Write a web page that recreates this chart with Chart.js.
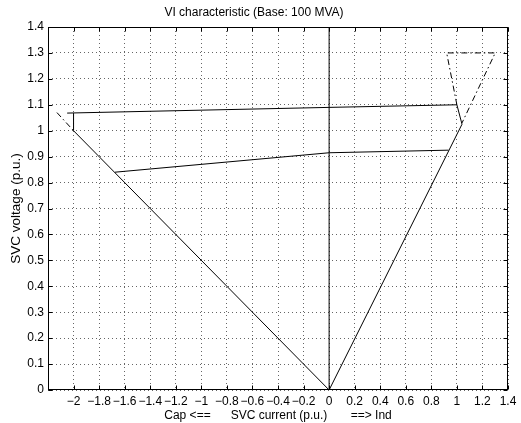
<!DOCTYPE html>
<html>
<head>
<meta charset="utf-8">
<script src="https://cdn.jsdelivr.net/npm/chart.js@4/dist/chart.umd.min.js"></script>
<style>
  html, body { margin: 0; padding: 0; background: #fff; }
  #wrap { width: 521px; height: 423px; }
</style>
</head>
<body>
<div id="wrap"><canvas id="vi" width="521" height="423"></canvas></div>
<script>
// V-I characteristic
// zero axis line
var axisX = [0, 0];
var axisY = [0, 1.4];

// operating boundary: top line, right slope, origin, left slope, small step
var boundX = [-2.05, 0, 1.0, 1.04, 0, -2.0, -2.0];
var boundY = [1.068, 1.09, 1.1, 1.025, 0, 1.0, 1.068];

// middle line
var midX = [-1.676, 0, 0.935];
var midY = [0.84, 0.915, 0.925];

// dash-dot limits (right and left)
var limRX = [1.0, 0.92, 1.3, 1.04];
var limRY = [1.1, 1.3, 1.3, 1.03];
var limLX = [-2.13, -2.0];
var limLY = [1.07, 1.0];

var xTickStep = 0.2;
var yTickStep = 0.1;

function pts(xs, ys) {
    return xs.map(function(v, i) { return {x: v, y: ys[i]}; });
}

function fmt(v) {
    var s = String(Number(v.toFixed(2)));
    return s.replace('-', '\u2212');
}

function line(data, dash) {
    return {
        data: data,
        showLine: true,
        borderColor: '#000',
        borderWidth: 1,
        borderDash: dash || [],
        pointRadius: 0,
        fill: false,
        tension: 0
    };
}

// box round the plot and inward tick marks on all four sides
var boxTicks = {
    id: 'boxTicks',
    afterDraw: function(chart) {
        var ctx = chart.ctx;
        var a = chart.chartArea;
        var x = chart.scales.x, y = chart.scales.y;
        var L = Math.round(a.left) + 0.5, R = Math.round(a.right) - 0.5;
        var T = Math.round(a.top) + 0.5, B = Math.round(a.bottom) - 0.5;
        ctx.save();
        ctx.strokeStyle = '#000';
        ctx.lineWidth = 1;
        ctx.beginPath();
        x.ticks.forEach(function(t) {
            var px = Math.round(x.getPixelForValue(t.value)) + 0.5;
            ctx.moveTo(px, B); ctx.lineTo(px, B - 4);
            ctx.moveTo(px, T); ctx.lineTo(px, T + 4);
        });
        y.ticks.forEach(function(t) {
            var py = Math.round(y.getPixelForValue(t.value)) + 0.5;
            ctx.moveTo(L, py); ctx.lineTo(L + 4, py);
            ctx.moveTo(R, py); ctx.lineTo(R - 4, py);
        });
        ctx.stroke();
        ctx.strokeRect(L, T, R - L, B - T);
        ctx.restore();
    }
};

Chart.defaults.font.family = '"Liberation Sans", Arial, Helvetica, sans-serif';
Chart.defaults.font.size = 12;
Chart.defaults.color = '#000';

var config = {
    type: 'scatter',
    data: {
        datasets: [
            line(pts(axisX, axisY)),
            line(pts(boundX, boundY)),
            line(pts(midX, midY)),
            line(pts(limRX, limRY), [6, 3, 1.5, 3]),
            line(pts(limLX, limLY), [6, 3, 1.5, 3])
        ]
    },
    options: {
        responsive: false,
        animation: false,
        devicePixelRatio: 1,
        layout: { padding: { left: 0, right: 13, top: 0, bottom: 0 } },
        plugins: {
            legend: { display: false },
            tooltip: { enabled: false },
            title: {
                display: true,
                text: 'VI characteristic (Base: 100 MVA)',
                font: { size: 12, weight: 'normal' },
                padding: { top: 5, bottom: 7.6 }
            }
        },
        scales: {
            x: {
                type: 'linear',
                min: -2.2,
                max: 1.4,
                afterFit: function(s) { s.height = 33; },
                ticks: {
                    stepSize: xTickStep,
                    padding: 4,
                    maxRotation: 0,
                    autoSkip: false,
                    callback: function(v) { return v < -2.19 ? '' : fmt(v); }
                },
                grid: { color: '#666', drawTicks: false },
                border: { display: false, dash: [1, 3] },
                title: {
                    display: true,
                    text: 'Cap <==      SVC current (p.u.)       ==> Ind',
                    padding: { top: 0, bottom: 0 }
                }
            },
            y: {
                type: 'linear',
                min: 0,
                max: 1.4,
                afterFit: function(s) { s.width = 48; },
                ticks: {
                    stepSize: yTickStep,
                    padding: 4,
                    autoSkip: false,
                    callback: function(v) { return fmt(v); }
                },
                grid: { color: '#666', drawTicks: false },
                border: { display: false, dash: [1, 3] },
                title: {
                    display: true,
                    text: 'SVC voltage (p.u.)',
                    font: { size: 13.5 },
                    padding: { top: 8, bottom: 0 }
                }
            }
        }
    },
    plugins: [boxTicks]
};

var viChart = new Chart(document.getElementById('vi'), config);
</script>
</body>
</html>
